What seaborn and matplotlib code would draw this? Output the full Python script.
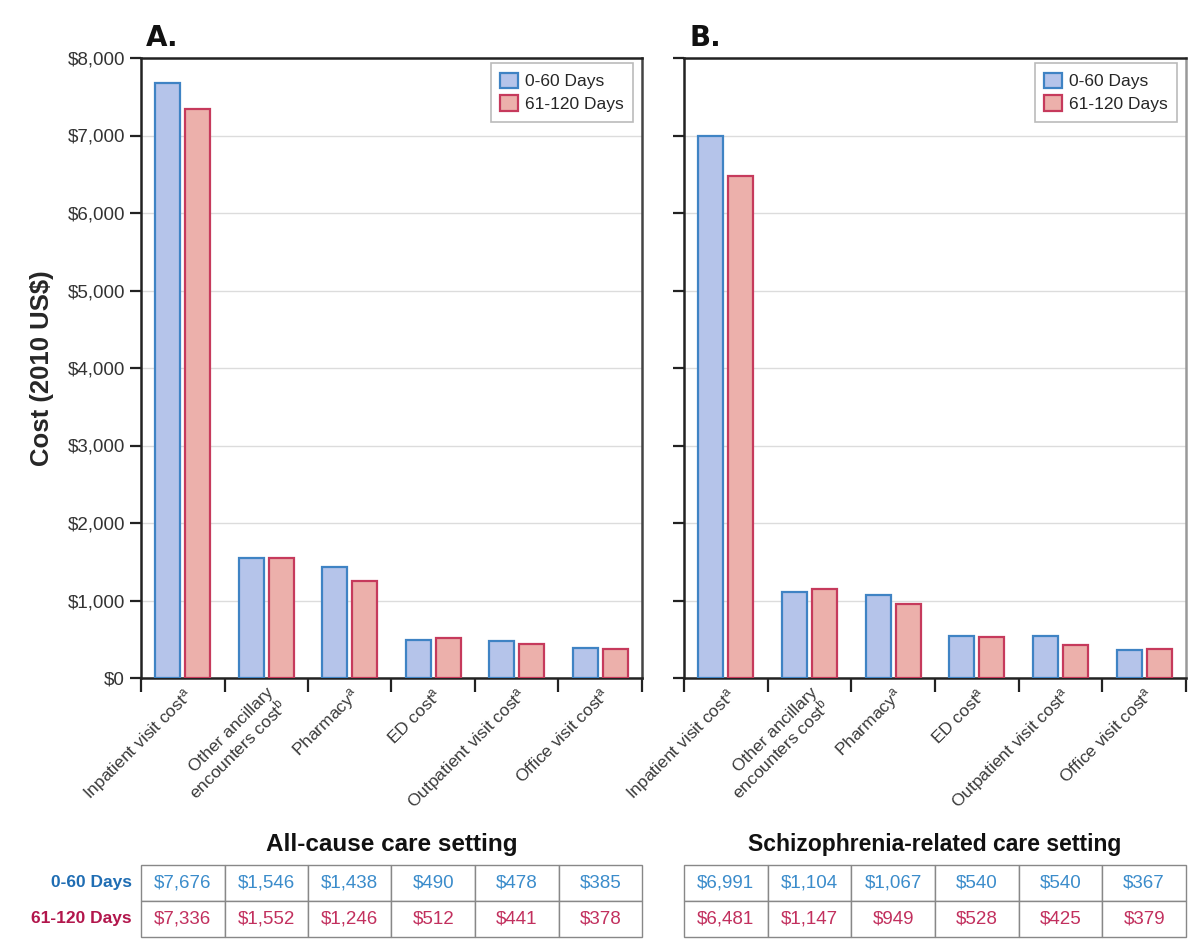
import matplotlib
matplotlib.use("Agg")
import matplotlib.pyplot as plt
import seaborn as sns
import pandas as pd
import numpy as np
from matplotlib.patches import Patch

categories = ["Inpatient visit cost$^{a}$", "Other ancillary\nencounters cost$^{b}$", "Pharmacy$^{a}$",
              "ED cost$^{a}$", "Outpatient visit cost$^{a}$", "Office visit cost$^{a}$"]
periods = ["0-60 Days", "61-120 Days"]
allcause_0_60 = [7676, 1546, 1438, 490, 478, 385]
allcause_61_120 = [7336, 1552, 1246, 512, 441, 378]
schizo_0_60 = [6991, 1104, 1067, 540, 540, 367]
schizo_61_120 = [6481, 1147, 949, 528, 425, 379]
panel_titles = ["A.", "B."]
setting_labels = ["All-cause care setting", "Schizophrenia-related care setting"]
yticks = [0, 1000, 2000, 3000, 4000, 5000, 6000, 7000, 8000]

sns.set_theme(style="white")
plt.rcParams['font.family'] = ['Liberation Sans', 'DejaVu Sans']
plt.rcParams['mathtext.fontset'] = 'custom'
plt.rcParams['mathtext.rm'] = 'Liberation Sans'
plt.rcParams['mathtext.it'] = 'Liberation Sans'

fill_cols = {"0-60 Days": "#b5c4ea", "61-120 Days": "#ecb0ab"}
edge_cols = {"0-60 Days": "#3f83c4", "61-120 Days": "#c63a5c"}
text_cols = {"0-60 Days": "#3b8ccb", "61-120 Days": "#c2305e"}
label_cols = {"0-60 Days": "#1f6db3", "61-120 Days": "#b2164c"}

def make_df(v1, v2):
    rows = []
    for i, c in enumerate(categories):
        rows.append({"Category": c, "Period": periods[0], "Cost": v1[i]})
        rows.append({"Category": c, "Period": periods[1], "Cost": v2[i]})
    return pd.DataFrame(rows)

fig = plt.figure(figsize=(12, 9.5), dpi=100)
W, H = 1200, 950
y0, y1 = 678, 58
axA = fig.add_axes([141 / W, 1 - y0 / H, 501 / W, (y0 - y1) / H])
axB = fig.add_axes([684 / W, 1 - y0 / H, 502 / W, (y0 - y1) / H])

datasets = [(allcause_0_60, allcause_61_120), (schizo_0_60, schizo_61_120)]
label_sizes = [17.5, 16.5]

for k, (ax, (v1, v2)) in enumerate(zip([axA, axB], datasets)):
    df = make_df(v1, v2)
    sns.barplot(data=df, x="Category", y="Cost", hue="Period", order=categories,
                hue_order=periods, palette=fill_cols, saturation=1, width=0.72, gap=0.17,
                ax=ax, legend=False, zorder=3)
    for bar_container, p in zip(ax.containers, periods):
        for bar in bar_container:
            bar.set_edgecolor(edge_cols[p])
            bar.set_linewidth(1.6)
    ax.set_xlim(-0.5, 5.5)
    ax.set_ylim(0, 8000)
    ax.set_yticks(yticks)
    ax.yaxis.grid(True, color="#dcdcdc", lw=1.0, zorder=0)
    ax.set_axisbelow(True)
    for s in ax.spines.values():
        s.set_visible(True)
        s.set_color("#222222")
        s.set_linewidth(1.8)
    ax.spines["right"].set_color("#444444" if k == 0 else "#999999")
    ax.tick_params(axis="y", which="major", direction="out", length=8, width=1.6,
                   color="#222222", labelsize=13.5, labelcolor="#333333", left=True)
    if k == 0:
        ax.set_yticklabels(["\\$" + f"{v:,}" for v in yticks])
        ax.set_ylabel("Cost (2010 US\\$)", fontsize=18.5, fontweight="bold", labelpad=10)
    else:
        ax.set_yticklabels([])
        ax.set_ylabel("")
    ax.set_xlabel("")
    ax.set_xticks(range(6))
    ax.set_xticklabels(categories, rotation=45, ha="right", rotation_mode="anchor",
                       fontsize=12.5, color="#3a3a3a", linespacing=1.0)
    ax.tick_params(axis="x", which="major", length=0, pad=5)
    ax.set_xticks(np.arange(-0.5, 6.0, 1.0), minor=True)
    ax.tick_params(axis="x", which="minor", direction="out", length=10, width=1.6,
                   color="#222222", bottom=True)
    ax.text(0.01, 1.01, panel_titles[k], transform=ax.transAxes, fontsize=20,
            fontweight="heavy", ha="left", va="bottom", color="#111111",
            family=["DejaVu Sans"])
    ax.text(0.5, -(845 - y0) / (y0 - y1), setting_labels[k], transform=ax.transAxes,
            fontsize=label_sizes[k], fontweight="bold", ha="center", va="center", color="#111111")
    handles = [Patch(facecolor=fill_cols[p], edgecolor=edge_cols[p], lw=1.6, label=p) for p in periods]
    leg = ax.legend(handles=handles, loc="upper right", bbox_to_anchor=(0.982, 0.992),
                    borderaxespad=0, fontsize=12.5, frameon=True, fancybox=False,
                    edgecolor="#aaaaaa", handlelength=1.0, handleheight=1.0,
                    handletextpad=0.4, borderpad=0.55, labelspacing=0.35)
    leg.get_frame().set_linewidth(1.2)

    # table
    cell_text = [["\\$" + f"{v:,}" for v in v1], ["\\$" + f"{v:,}" for v in v2]]
    tb_top, tb_bot = 865, 937
    h_ax = y0 - y1
    tbl = ax.table(cellText=cell_text, cellLoc="center",
                   bbox=[0, -(tb_bot - y0) / h_ax, 1, (tb_bot - tb_top) / h_ax])
    tbl.auto_set_font_size(False)
    for (r, c), cell in tbl.get_celld().items():
        cell.set_edgecolor("#888888")
        cell.set_linewidth(1.0)
        cell.get_text().set_fontsize(13.5)
        cell.get_text().set_color(text_cols[periods[r]])
    if k == 0:
        for r, p in enumerate(periods):
            ycen = tb_top + (tb_bot - tb_top) * (r + 0.5) / 2
            ax.text(-0.018, -(ycen - y0) / h_ax, p, transform=ax.transAxes, ha="right",
                    va="center", fontsize=12.5, fontweight="bold", color=label_cols[p])

fig.savefig("out.png", dpi=100)
